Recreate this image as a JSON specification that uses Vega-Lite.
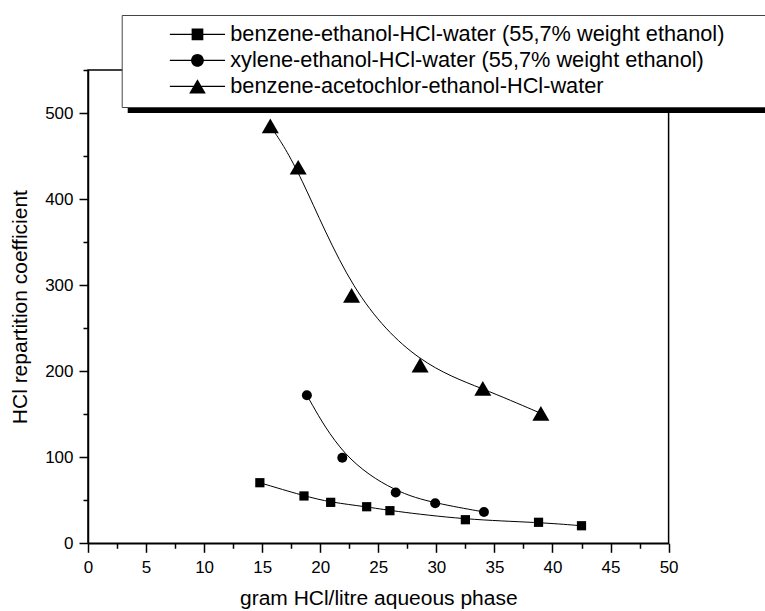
{
  "$schema": "https://vega.github.io/schema/vega-lite/v6.json",
  "width": 580.6,
  "height": 473.3,
  "autosize": {"type": "none"},
  "padding": {"left": 88, "top": 70, "right": 97, "bottom": 68},
  "background": "white",
  "config": {
    "font": "Liberation Sans",
    "view": {"stroke": "black", "strokeWidth": 1.5},
    "axis": {
      "domainColor": "black", "domainWidth": 1.5, "tickColor": "black", "tickWidth": 1.5,
      "labelColor": "black", "titleColor": "black", "labelFont": "Liberation Sans", "titleFont": "Liberation Sans",
      "labelFontSize": 17, "titleFontSize": 21, "titleFontWeight": "normal", "grid": false
    }
  },
  "data": {"values": [
    {"series": "benzene-ethanol-HCl-water (55,7% weight ethanol)", "x": 14.8, "y": 70.4},
    {"series": "benzene-ethanol-HCl-water (55,7% weight ethanol)", "x": 18.6, "y": 55},
    {"series": "benzene-ethanol-HCl-water (55,7% weight ethanol)", "x": 20.9, "y": 47.6},
    {"series": "benzene-ethanol-HCl-water (55,7% weight ethanol)", "x": 24.0, "y": 42.5},
    {"series": "benzene-ethanol-HCl-water (55,7% weight ethanol)", "x": 26.0, "y": 37.9},
    {"series": "benzene-ethanol-HCl-water (55,7% weight ethanol)", "x": 32.5, "y": 27.4},
    {"series": "benzene-ethanol-HCl-water (55,7% weight ethanol)", "x": 38.8, "y": 24.4},
    {"series": "benzene-ethanol-HCl-water (55,7% weight ethanol)", "x": 42.5, "y": 20.4},
    {"series": "xylene-ethanol-HCl-water (55,7% weight ethanol)", "x": 18.85, "y": 172},
    {"series": "xylene-ethanol-HCl-water (55,7% weight ethanol)", "x": 21.9, "y": 99.4},
    {"series": "xylene-ethanol-HCl-water (55,7% weight ethanol)", "x": 26.5, "y": 59},
    {"series": "xylene-ethanol-HCl-water (55,7% weight ethanol)", "x": 29.9, "y": 46.5},
    {"series": "xylene-ethanol-HCl-water (55,7% weight ethanol)", "x": 34.1, "y": 36.4},
    {"series": "benzene-acetochlor-ethanol-HCl-water", "x": 15.7, "y": 485},
    {"series": "benzene-acetochlor-ethanol-HCl-water", "x": 18.1, "y": 437},
    {"series": "benzene-acetochlor-ethanol-HCl-water", "x": 22.7, "y": 288},
    {"series": "benzene-acetochlor-ethanol-HCl-water", "x": 28.6, "y": 207},
    {"series": "benzene-acetochlor-ethanol-HCl-water", "x": 34.0, "y": 180},
    {"series": "benzene-acetochlor-ethanol-HCl-water", "x": 39.0, "y": 151}
  ]},
  "resolve": {"axis": {"x": "independent", "y": "independent"}},
  "layer": [
    {
      "data": {"values": [{}]},
      "mark": {"type": "rule", "strokeWidth": 7, "color": "black"},
      "encoding": {
        "x": {"datum": 3.42, "type": "quantitative", "axis": null},
        "x2": {"datum": 60},
        "y": {"datum": 504, "type": "quantitative", "axis": null}
      }
    },
    {
      "mark": {"type": "line", "interpolate": "basis", "color": "black", "strokeWidth": 1},
      "encoding": {
        "x": {"field": "x", "type": "quantitative", "scale": {"domain": [0, 50], "nice": false},
              "axis": {"orient": "bottom", "values": [0, 5, 10, 15, 20, 25, 30, 35, 40, 45, 50], "tickSize": 9,
                       "labelPadding": 7, "title": "gram HCl/litre aqueous phase", "titlePadding": 12, "labelFlush": false}},
        "y": {"field": "y", "type": "quantitative", "scale": {"domain": [0, 550], "nice": false},
              "axis": {"orient": "left", "values": [0, 100, 200, 300, 400, 500], "tickSize": 9,
                       "labelPadding": 6, "title": "HCl repartition coefficient", "titlePadding": 14, "labelFlush": false}},
        "detail": {"field": "series"}
      }
    },
    {
      "transform": [{"filter": "datum.series === 'benzene-ethanol-HCl-water (55,7% weight ethanol)'"}],
      "mark": {"type": "point", "filled": true, "opacity": 1, "size": 85, "shape": "square", "color": "black"},
      "encoding": {
        "x": {"field": "x", "type": "quantitative",
              "axis": {"orient": "bottom", "values": [2.5, 7.5, 12.5, 17.5, 22.5, 27.5, 32.5, 37.5, 42.5, 47.5],
                       "tickSize": 5, "labels": false, "domain": false, "title": null}},
        "y": {"field": "y", "type": "quantitative",
              "axis": {"orient": "left", "values": [50, 150, 250, 350, 450, 550],
                       "tickSize": 5, "labels": false, "domain": false, "title": null}}
      }
    },
    {
      "transform": [{"filter": "datum.series === 'xylene-ethanol-HCl-water (55,7% weight ethanol)'"}],
      "mark": {"type": "point", "filled": true, "opacity": 1, "size": 100, "shape": "circle", "color": "black"},
      "encoding": {
        "x": {"field": "x", "type": "quantitative", "axis": null},
        "y": {"field": "y", "type": "quantitative", "axis": null}
      }
    },
    {
      "transform": [{"filter": "datum.series === 'benzene-acetochlor-ethanol-HCl-water'"}],
      "mark": {"type": "point", "filled": true, "opacity": 1, "size": 289, "shape": "triangle-up", "color": "black"},
      "encoding": {
        "x": {"field": "x", "type": "quantitative", "axis": null},
        "y": {"field": "y", "type": "quantitative", "axis": null}
      }
    },
    {
      "transform": [{"filter": "datum.x < 0"}],
      "mark": {"type": "point", "filled": true, "opacity": 1, "color": "black"},
      "encoding": {
        "x": {"field": "x", "type": "quantitative", "axis": null},
        "y": {"field": "y", "type": "quantitative", "axis": null},
        "shape": {"field": "series", "type": "nominal",
                  "scale": {"domain": ["benzene-ethanol-HCl-water (55,7% weight ethanol)", "xylene-ethanol-HCl-water (55,7% weight ethanol)", "benzene-acetochlor-ethanol-HCl-water"],
                            "range": ["M4.8,-0.085H14.0V0.085H4.8ZM8.425,-0.975H10.375V0.975H8.425Z",
                                      "M4.8,-0.085H14.0V0.085H4.8ZM8.34,0A1.06,1.06,0,1,1,10.46,0A1.06,1.06,0,1,1,8.34,0Z",
                                      "M4.8,-0.085H14.0V0.085H4.8ZM9.4,-1.2L10.79,1.2H8.01Z"]},
                  "legend": {"title": null, "orient": "none", "legendX": 33.7, "legendY": -55,
                             "fillColor": "white", "strokeColor": "#444444",
                             "padding": 8.5, "labelFont": "Liberation Sans", "labelFontSize": 21.75, "labelColor": "black",
                             "labelLimit": 2000, "symbolSize": 144, "symbolStrokeWidth": 0.5, "symbolStrokeColor": "black",
                             "symbolFillColor": "black", "symbolOpacity": 1, "rowPadding": 3, "labelOffset": 78.3,
                             "labelExpr": "datum.label + '\u00a0\u00a0\u00a0\u00a0\u00a0\u00a0\u200b'"}}
      }
    }
  ]
}
